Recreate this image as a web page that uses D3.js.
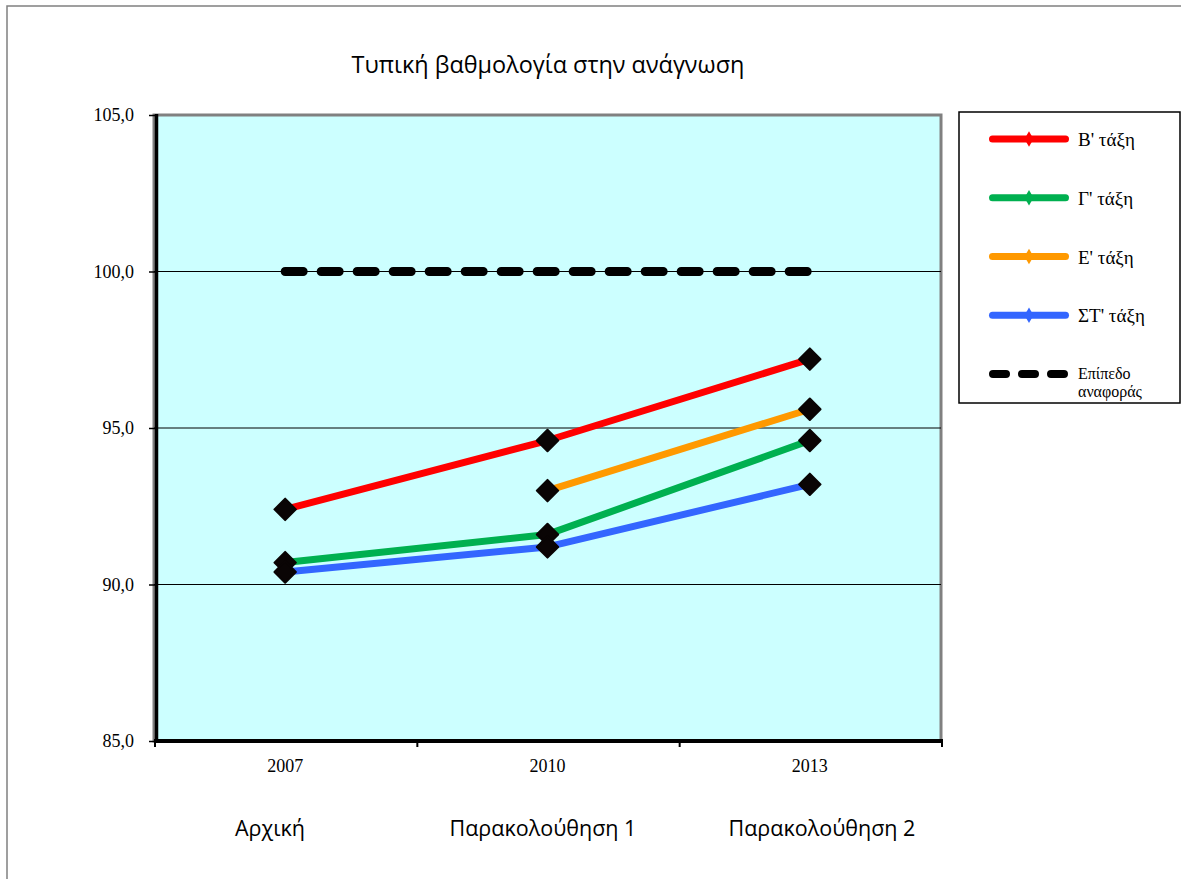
<!DOCTYPE html>
<html>
<head>
<meta charset="utf-8">
<script src="https://cdn.jsdelivr.net/npm/d3@7"></script>
<style>
  html, body { margin: 0; padding: 0; background: #fff; }
  svg { display: block; }
</style>
</head>
<body>
<div id="chart"></div>
<script>
// ---- data ----
const years = ['2007', '2010', '2013'];
const phaseLabels = ['Αρχική', 'Παρακολούθηση 1', 'Παρακολούθηση 2'];
const yTicks = [85, 90, 95, 100, 105];

const seriesNames = ["Β' τάξη", "Γ' τάξη", "Ε' τάξη", "ΣΤ' τάξη"];
const seriesColors = ['#FF0000', '#00B050', '#FF9900', '#3366FF'];
const gradeB = [92.4, 94.6, 97.2];
const gradeG = [90.7, 91.6, 94.6];
const gradeE = [null, 93.0, 95.6];
const gradeST = [90.4, 91.2, 93.2];
const referenceName = ['Επίπεδο', 'αναφοράς'];
const referenceLevel = [100, 100, 100];

const seriesValues = [gradeB, gradeG, gradeE, gradeST];

// ---- layout ----
const width = 1181, height = 879;
const plot = { left: 154, right: 941, top: 115, bottom: 741 };
const serif = "'Liberation Serif', 'Times New Roman', serif";
const sans = "'Open Sans', 'Noto Sans', sans-serif";

const svg = d3.select('#chart').append('svg')
  .attr('width', width)
  .attr('height', height);

// outer frame
svg.append('rect')
  .attr('x', 7).attr('y', 6)
  .attr('width', width + 10).attr('height', height + 10)
  .attr('fill', 'none')
  .attr('stroke', '#808080')
  .attr('stroke-width', 1.5);

const x = d3.scaleBand()
  .domain(years)
  .range([plot.left, plot.right])
  .padding(0);

const y = d3.scaleLinear()
  .domain([85, 105])
  .range([plot.bottom, plot.top]);

const cx = d => x(d) + x.bandwidth() / 2;

// plot area
svg.append('rect')
  .attr('x', plot.left).attr('y', plot.top)
  .attr('width', plot.right - plot.left)
  .attr('height', plot.bottom - plot.top)
  .attr('fill', '#CCFFFF')
  .attr('stroke', '#808080')
  .attr('stroke-width', 3);

// grid lines
svg.selectAll('.grid')
  .data(yTicks.filter(t => t > 85 && t < 105))
  .join('line')
  .attr('class', 'grid')
  .attr('x1', plot.left).attr('x2', plot.right)
  .attr('y1', d => y(d)).attr('y2', d => y(d))
  .attr('stroke', '#000')
  .attr('stroke-width', 1);

// y axis
const yAxis = d3.axisLeft(y)
  .tickValues(yTicks)
  .tickSize(6)
  .tickFormat(d => d3.format('.1f')(d).replace('.', ','));

const yg = svg.append('g')
  .attr('transform', `translate(${plot.left + 1},0)`)
  .attr('font-size', null)
  .call(yAxis);
yg.select('.domain').remove();
yg.selectAll('.tick line').attr('stroke', '#000').attr('stroke-width', 1.5);
yg.selectAll('.tick text')
  .attr('x', -21)
  .attr('dy', '0.32em')
  .attr('font-family', serif)
  .attr('font-size', 18)
  .attr('fill', '#000');

svg.append('line')
  .attr('x1', plot.left + 2.5).attr('x2', plot.left + 2.5)
  .attr('y1', plot.top - 1).attr('y2', plot.bottom)
  .attr('stroke', '#000')
  .attr('stroke-width', 3.5);

// x axis
const xg = svg.append('g')
  .attr('transform', `translate(0,${plot.bottom})`)
  .call(d3.axisBottom(x).tickSize(0).tickPadding(18));
xg.select('.domain').remove();
xg.selectAll('.tick text')
  .attr('font-family', serif)
  .attr('font-size', 18)
  .attr('fill', '#000');

svg.append('line')
  .attr('x1', plot.left).attr('x2', plot.right + 2)
  .attr('y1', plot.bottom).attr('y2', plot.bottom)
  .attr('stroke', '#000')
  .attr('stroke-width', 4);

const boundaries = years.map(d => x(d)).concat([x(years[years.length - 1]) + x.bandwidth()]);
svg.selectAll('.xtick')
  .data(boundaries)
  .join('line')
  .attr('class', 'xtick')
  .attr('x1', d => d + 1).attr('x2', d => d + 1)
  .attr('y1', plot.bottom).attr('y2', plot.bottom + 6)
  .attr('stroke', '#000')
  .attr('stroke-width', 2);

// reference line
const line = d3.line()
  .defined(d => d.v != null)
  .x(d => cx(d.year))
  .y(d => y(d.v));

svg.append('path')
  .datum(years.map((yr, i) => ({ year: yr, v: referenceLevel[i] })))
  .attr('d', line)
  .attr('fill', 'none')
  .attr('stroke', '#000')
  .attr('stroke-width', 9)
  .attr('stroke-linecap', 'round')
  .attr('stroke-dasharray', '18,18');

// series
const marker = d3.symbol().type(d3.symbolSquare).size(230);

seriesValues.forEach((vals, i) => {
  const pts = years.map((yr, j) => ({ year: yr, v: vals[j] }));
  svg.append('path')
    .datum(pts)
    .attr('d', line)
    .attr('fill', 'none')
    .attr('stroke', seriesColors[i])
    .attr('stroke-width', 7)
    .attr('stroke-linejoin', 'round');

  svg.selectAll(`.mk${i}`)
    .data(pts.filter(p => p.v != null))
    .join('path')
    .attr('class', `mk${i}`)
    .attr('d', marker)
    .attr('transform', d => `translate(${cx(d.year)},${y(d.v)}) rotate(45)`)
    .attr('fill', '#0a0505')
    .attr('stroke', '#0a0505')
    .attr('stroke-width', 2)
    .attr('stroke-linejoin', 'round');
});

// title
const title = svg.append('text')
  .attr('x', 548)
  .attr('y', 73)
  .attr('text-anchor', 'middle')
  .style('font-family', sans)
  .style('font-size', '22px')
  .attr('fill', '#000')
  .text('Τυπική βαθμολογία στην ανάγνωση');

// phase labels under the axis
const phaseX = [270, 543, 822];
const phases = svg.selectAll('.phase')
  .data(phaseLabels)
  .join('text')
  .attr('class', 'phase')
  .attr('x', (d, i) => phaseX[i])
  .attr('y', 836)
  .attr('text-anchor', 'middle')
  .style('font-family', sans)
  .style('font-size', '19px')
  .attr('fill', '#000')
  .text(d => d);

// fit sans text widths to the reference
function fit(sel, target, base) {
  const w = sel.node().getComputedTextLength();
  return base * target / w;
}
const ts = fit(title, 393, 22);
title.style('font-size', ts + 'px');
const ps = fit(d3.select(phases.nodes()[1]), 187, 19);
phases.style('font-size', ps + 'px');

// legend
const legend = svg.append('g');
legend.append('rect')
  .attr('x', 959).attr('y', 112)
  .attr('width', 221).attr('height', 291)
  .attr('fill', '#fff')
  .attr('stroke', '#000')
  .attr('stroke-width', 1.5);

const rowY = d3.scaleLinear().domain([0, 4]).range([139, 374]);
const legendDiamond = d3.symbol().type(d3.symbolDiamond).size(70);

seriesNames.forEach((name, i) => {
  const ly = rowY(i);
  legend.append('line')
    .attr('x1', 992.5).attr('x2', 1065.5)
    .attr('y1', ly).attr('y2', ly)
    .attr('stroke', seriesColors[i])
    .attr('stroke-width', 7)
    .attr('stroke-linecap', 'round');
  legend.append('path')
    .attr('d', legendDiamond)
    .attr('transform', `translate(1029,${ly})`)
    .attr('fill', seriesColors[i]);
  legend.append('text')
    .attr('x', 1078).attr('y', ly + 7)
    .style('font-family', serif)
    .style('font-size', '19px')
    .attr('fill', '#000')
    .text(name);
});

const refY = rowY(4);
legend.append('line')
  .attr('x1', 993).attr('x2', 1065)
  .attr('y1', refY).attr('y2', refY)
  .attr('stroke', '#000')
  .attr('stroke-width', 8)
  .attr('stroke-linecap', 'round')
  .attr('stroke-dasharray', '13,16');
legend.append('text')
  .attr('x', 1078).attr('y', refY + 5)
  .style('font-family', serif)
  .style('font-size', '16px')
  .attr('fill', '#000')
  .selectAll('tspan')
  .data(referenceName)
  .join('tspan')
  .attr('x', 1078)
  .attr('dy', (d, i) => i === 0 ? 0 : 18)
  .text(d => d);
</script>
</body>
</html>
